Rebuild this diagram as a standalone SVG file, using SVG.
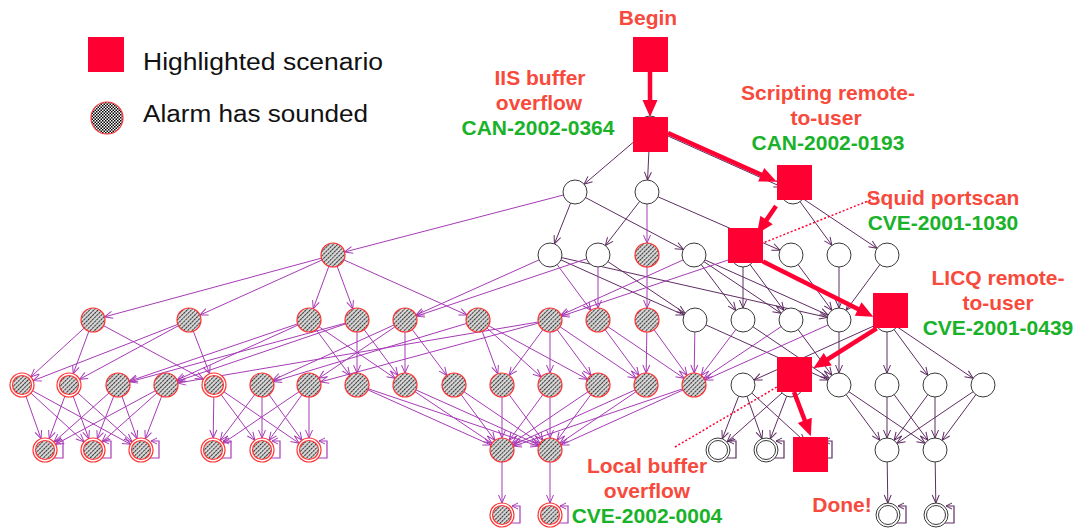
<svg xmlns="http://www.w3.org/2000/svg" width="1076" height="531" viewBox="0 0 1076 531">
<style>
.w{fill:#fff;stroke:#3a3a3a;stroke-width:1}
.a{fill:url(#hatch);stroke:#ff3333;stroke-width:1.2}
.ao{fill:#fff;stroke:#ff3333;stroke-width:1.2}
.sq{fill:#ff0033}
.e line{stroke:#a63bb6;stroke-width:1;marker-end:url(#ap)}
.d line{stroke:#5e2d62;stroke-width:1;marker-end:url(#ad)}
.lpa{fill:none;stroke:#a63bb6;stroke-width:1.2;marker-end:url(#lpa)}
.lpd{fill:none;stroke:#5e2d62;stroke-width:1.2;marker-end:url(#lpd)}
.hr{stroke:#ff0033;stroke-width:4.5;marker-end:url(#ar)}
.dot{stroke:#ff0033;stroke-width:1.5;stroke-dasharray:2 2;fill:none}
.lbl{font-family:"Liberation Sans",Arial,sans-serif;font-weight:bold;font-size:21px;text-anchor:middle}
.r{fill:#f84a3c}
.g{fill:#19b229}
.leg{font-family:"Liberation Sans",Arial,sans-serif;font-size:23px;fill:#111}
</style>
<defs>
<pattern id="hatch" width="3" height="3" patternUnits="userSpaceOnUse" patternTransform="rotate(45)">
<rect width="3" height="3" fill="#dcdcdc"/><rect width="1.1" height="2.4" fill="#3a3a3a"/>
</pattern>
<pattern id="chk" width="3" height="3" patternUnits="userSpaceOnUse">
<rect width="3" height="3" fill="#fff"/><rect width="1.5" height="1.5" fill="#000"/><rect x="1.5" y="1.5" width="1.5" height="1.5" fill="#000"/>
</pattern>
<marker id="ap" markerUnits="userSpaceOnUse" orient="auto" viewBox="-25 -10 30 20" markerWidth="30" markerHeight="20" refX="0" refY="0" overflow="visible">
<path d="M-20,-3.5 L-12,0 L-20,3.5" fill="none" stroke="#a63bb6" stroke-width="1"/>
</marker>
<marker id="ad" markerUnits="userSpaceOnUse" orient="auto" viewBox="-25 -10 30 20" markerWidth="30" markerHeight="20" refX="0" refY="0" overflow="visible">
<path d="M-20,-3.5 L-12,0 L-20,3.5" fill="none" stroke="#5e2d62" stroke-width="1"/>
</marker>
<marker id="lpa" markerUnits="userSpaceOnUse" orient="auto" viewBox="-10 -5 12 10" markerWidth="12" markerHeight="10" refX="0" refY="0" overflow="visible">
<path d="M-6,-3 L0,0 L-6,3" fill="none" stroke="#a63bb6" stroke-width="1"/>
</marker>
<marker id="lpd" markerUnits="userSpaceOnUse" orient="auto" viewBox="-10 -5 12 10" markerWidth="12" markerHeight="10" refX="0" refY="0" overflow="visible">
<path d="M-6,-3 L0,0 L-6,3" fill="none" stroke="#5e2d62" stroke-width="1"/>
</marker>
<marker id="ar" markerUnits="userSpaceOnUse" orient="auto" viewBox="-10 -10 22 20" markerWidth="22" markerHeight="20" refX="0" refY="0" overflow="visible">
<path d="M-7,-7.5 L10,0 L-7,7.5 Z" fill="#ff0033"/>
</marker>
</defs>
<rect width="1076" height="531" fill="#fff"/>

<g id="legend">
<rect class="sq" x="88" y="37" width="36" height="35"/>
<text class="leg" x="143" y="70" textLength="240" lengthAdjust="spacingAndGlyphs">Highlighted scenario</text>
<circle cx="107" cy="118" r="16" fill="url(#chk)" stroke="#ff3333" stroke-width="1.2"/>
<text class="leg" x="143" y="122" textLength="225" lengthAdjust="spacingAndGlyphs">Alarm has sounded</text>
</g>

<g id="connectors">
<g class="d">
<line x1="650" y1="128" x2="575" y2="192"/>
<line x1="650" y1="128" x2="647" y2="192"/>
<line x1="650" y1="128" x2="793" y2="192"/>
<line x1="575" y1="192" x2="550" y2="255"/>
<line x1="575" y1="192" x2="694" y2="255"/>
<line x1="647" y1="192" x2="598" y2="255"/>
<line x1="647" y1="192" x2="791" y2="255"/>
<line x1="793" y1="192" x2="839" y2="255"/>
<line x1="793" y1="192" x2="887" y2="255"/>
<line x1="743" y1="255" x2="743" y2="320"/>
<line x1="743" y1="255" x2="791" y2="320"/>
<line x1="550" y1="255" x2="695" y2="320"/>
<line x1="598" y1="255" x2="695" y2="320"/>
<line x1="694" y1="255" x2="743" y2="320"/>
<line x1="694" y1="255" x2="791" y2="320"/>
<line x1="694" y1="255" x2="839" y2="320"/>
<line x1="550" y1="255" x2="839" y2="320"/>
<line x1="791" y1="255" x2="839" y2="320"/>
<line x1="839" y1="255" x2="839" y2="320"/>
<line x1="887" y1="255" x2="839" y2="320"/>
<line x1="695" y1="320" x2="839" y2="385"/>
<line x1="743" y1="320" x2="839" y2="385"/>
<line x1="791" y1="320" x2="839" y2="385"/>
<line x1="839" y1="320" x2="839" y2="385"/>
<line x1="887" y1="320" x2="743" y2="385"/>
<line x1="887" y1="320" x2="887" y2="385"/>
<line x1="887" y1="320" x2="935" y2="385"/>
<line x1="887" y1="320" x2="983" y2="385"/>
<line x1="743" y1="385" x2="718" y2="450"/>
<line x1="743" y1="385" x2="766" y2="450"/>
<line x1="743" y1="385" x2="814" y2="450"/>
<line x1="791" y1="385" x2="718" y2="450"/>
<line x1="791" y1="385" x2="766" y2="450"/>
<line x1="839" y1="385" x2="887" y2="450"/>
<line x1="839" y1="385" x2="935" y2="450"/>
<line x1="887" y1="385" x2="887" y2="450"/>
<line x1="887" y1="385" x2="935" y2="450"/>
<line x1="935" y1="385" x2="887" y2="450"/>
<line x1="935" y1="385" x2="935" y2="450"/>
<line x1="983" y1="385" x2="887" y2="450"/>
<line x1="983" y1="385" x2="935" y2="450"/>
<line x1="887" y1="450" x2="888" y2="515"/>
<line x1="935" y1="450" x2="936" y2="515"/>
</g>
<g class="e">
<line x1="575" y1="192" x2="333" y2="255"/>
<line x1="647" y1="192" x2="647" y2="255"/>
<line x1="333" y1="255" x2="93" y2="320"/>
<line x1="333" y1="255" x2="189" y2="320"/>
<line x1="333" y1="255" x2="309" y2="320"/>
<line x1="333" y1="255" x2="357" y2="320"/>
<line x1="333" y1="255" x2="478" y2="320"/>
<line x1="647" y1="255" x2="647" y2="320"/>
<line x1="550" y1="255" x2="405" y2="320"/>
<line x1="598" y1="255" x2="405" y2="320"/>
<line x1="550" y1="255" x2="598" y2="320"/>
<line x1="598" y1="255" x2="598" y2="320"/>
<line x1="694" y1="255" x2="550" y2="320"/>
<line x1="743" y1="255" x2="550" y2="320"/>
<line x1="93" y1="320" x2="22" y2="385"/>
<line x1="93" y1="320" x2="69" y2="385"/>
<line x1="93" y1="320" x2="214" y2="385"/>
<line x1="189" y1="320" x2="22" y2="385"/>
<line x1="189" y1="320" x2="69" y2="385"/>
<line x1="189" y1="320" x2="214" y2="385"/>
<line x1="309" y1="320" x2="118" y2="385"/>
<line x1="309" y1="320" x2="166" y2="385"/>
<line x1="309" y1="320" x2="357" y2="385"/>
<line x1="309" y1="320" x2="405" y2="385"/>
<line x1="357" y1="320" x2="118" y2="385"/>
<line x1="357" y1="320" x2="166" y2="385"/>
<line x1="357" y1="320" x2="357" y2="385"/>
<line x1="357" y1="320" x2="405" y2="385"/>
<line x1="405" y1="320" x2="262" y2="385"/>
<line x1="405" y1="320" x2="405" y2="385"/>
<line x1="405" y1="320" x2="454" y2="385"/>
<line x1="405" y1="320" x2="309" y2="385"/>
<line x1="478" y1="320" x2="262" y2="385"/>
<line x1="478" y1="320" x2="502" y2="385"/>
<line x1="478" y1="320" x2="550" y2="385"/>
<line x1="478" y1="320" x2="598" y2="385"/>
<line x1="550" y1="320" x2="309" y2="385"/>
<line x1="550" y1="320" x2="166" y2="385"/>
<line x1="550" y1="320" x2="502" y2="385"/>
<line x1="550" y1="320" x2="550" y2="385"/>
<line x1="550" y1="320" x2="598" y2="385"/>
<line x1="550" y1="320" x2="646" y2="385"/>
<line x1="598" y1="320" x2="646" y2="385"/>
<line x1="598" y1="320" x2="694" y2="385"/>
<line x1="647" y1="320" x2="646" y2="385"/>
<line x1="647" y1="320" x2="694" y2="385"/>
<line x1="695" y1="320" x2="694" y2="385"/>
<line x1="743" y1="320" x2="694" y2="385"/>
<line x1="791" y1="320" x2="694" y2="385"/>
<line x1="839" y1="320" x2="694" y2="385"/>
<line x1="22" y1="385" x2="45" y2="450"/>
<line x1="22" y1="385" x2="93" y2="450"/>
<line x1="22" y1="385" x2="141" y2="450"/>
<line x1="69" y1="385" x2="45" y2="450"/>
<line x1="69" y1="385" x2="93" y2="450"/>
<line x1="69" y1="385" x2="141" y2="450"/>
<line x1="118" y1="385" x2="45" y2="450"/>
<line x1="118" y1="385" x2="93" y2="450"/>
<line x1="118" y1="385" x2="141" y2="450"/>
<line x1="166" y1="385" x2="45" y2="450"/>
<line x1="166" y1="385" x2="93" y2="450"/>
<line x1="166" y1="385" x2="141" y2="450"/>
<line x1="214" y1="385" x2="213" y2="450"/>
<line x1="214" y1="385" x2="262" y2="450"/>
<line x1="214" y1="385" x2="309" y2="450"/>
<line x1="262" y1="385" x2="213" y2="450"/>
<line x1="262" y1="385" x2="262" y2="450"/>
<line x1="262" y1="385" x2="309" y2="450"/>
<line x1="309" y1="385" x2="213" y2="450"/>
<line x1="309" y1="385" x2="262" y2="450"/>
<line x1="309" y1="385" x2="309" y2="450"/>
<line x1="357" y1="385" x2="502" y2="450"/>
<line x1="357" y1="385" x2="550" y2="450"/>
<line x1="405" y1="385" x2="502" y2="450"/>
<line x1="405" y1="385" x2="550" y2="450"/>
<line x1="454" y1="385" x2="502" y2="450"/>
<line x1="454" y1="385" x2="550" y2="450"/>
<line x1="502" y1="385" x2="502" y2="450"/>
<line x1="502" y1="385" x2="550" y2="450"/>
<line x1="550" y1="385" x2="502" y2="450"/>
<line x1="550" y1="385" x2="550" y2="450"/>
<line x1="598" y1="385" x2="502" y2="450"/>
<line x1="598" y1="385" x2="550" y2="450"/>
<line x1="646" y1="385" x2="502" y2="450"/>
<line x1="646" y1="385" x2="550" y2="450"/>
<line x1="694" y1="385" x2="502" y2="450"/>
<line x1="694" y1="385" x2="550" y2="450"/>
<line x1="502" y1="450" x2="502" y2="515"/>
<line x1="550" y1="450" x2="550" y2="515"/>
</g>
</g>

<g id="nodes">
<g id="n-r2-575"><circle class="w" cx="575" cy="192" r="12"/></g>
<g id="n-r2-647"><circle class="w" cx="647" cy="192" r="12"/></g>
<g id="n-r3-333"><circle class="a" cx="333" cy="255" r="12"/></g>
<g id="n-r3-550"><circle class="w" cx="550" cy="255" r="12"/></g>
<g id="n-r3-598"><circle class="w" cx="598" cy="255" r="12"/></g>
<g id="n-r3-647"><circle class="a" cx="647" cy="255" r="12"/></g>
<g id="n-r3-694"><circle class="w" cx="694" cy="255" r="12"/></g>
<g id="n-r3-791"><circle class="w" cx="791" cy="255" r="12"/></g>
<g id="n-r3-839"><circle class="w" cx="839" cy="255" r="12"/></g>
<g id="n-r3-887"><circle class="w" cx="887" cy="255" r="12"/></g>

<g id="n-r4-93"><circle class="a" cx="93" cy="320" r="12"/></g>
<g id="n-r4-189"><circle class="a" cx="189" cy="320" r="12"/></g>
<g id="n-r4-309"><circle class="a" cx="309" cy="320" r="12"/></g>
<g id="n-r4-357"><circle class="a" cx="357" cy="320" r="12"/></g>
<g id="n-r4-405"><circle class="a" cx="405" cy="320" r="12"/></g>
<g id="n-r4-478"><circle class="a" cx="478" cy="320" r="12"/></g>
<g id="n-r4-550"><circle class="a" cx="550" cy="320" r="12"/></g>
<g id="n-r4-598"><circle class="a" cx="598" cy="320" r="12"/></g>
<g id="n-r4-647"><circle class="a" cx="647" cy="320" r="12"/></g>
<g id="n-r4-695"><circle class="w" cx="695" cy="320" r="12"/></g>
<g id="n-r4-743"><circle class="w" cx="743" cy="320" r="12"/></g>
<g id="n-r4-791"><circle class="w" cx="791" cy="320" r="12"/></g>
<g id="n-r4-839"><circle class="w" cx="839" cy="320" r="12"/></g>

<g id="n-r5-22"><circle class="ao" cx="22" cy="385" r="12"/><circle class="a" cx="22" cy="385" r="9.5"/></g>
<g id="n-r5-69"><circle class="ao" cx="69" cy="385" r="12"/><circle class="a" cx="69" cy="385" r="9.5"/></g>
<g id="n-r5-118"><circle class="a" cx="118" cy="385" r="12"/></g>
<g id="n-r5-166"><circle class="a" cx="166" cy="385" r="12"/></g>
<g id="n-r5-214"><circle class="ao" cx="214" cy="385" r="12"/><circle class="a" cx="214" cy="385" r="9.5"/></g>
<g id="n-r5-262"><circle class="a" cx="262" cy="385" r="12"/></g>
<g id="n-r5-309"><circle class="a" cx="309" cy="385" r="12"/></g>
<g id="n-r5-357"><circle class="a" cx="357" cy="385" r="12"/></g>
<g id="n-r5-405"><circle class="a" cx="405" cy="385" r="12"/></g>
<g id="n-r5-454"><circle class="a" cx="454" cy="385" r="12"/></g>
<g id="n-r5-502"><circle class="a" cx="502" cy="385" r="12"/></g>
<g id="n-r5-550"><circle class="a" cx="550" cy="385" r="12"/></g>
<g id="n-r5-598"><circle class="a" cx="598" cy="385" r="12"/></g>
<g id="n-r5-646"><circle class="a" cx="646" cy="385" r="12"/></g>
<g id="n-r5-694"><circle class="a" cx="694" cy="385" r="12"/></g>
<g id="n-r5-743"><circle class="w" cx="743" cy="385" r="12"/></g>
<g id="n-r5-839"><circle class="w" cx="839" cy="385" r="12"/></g>
<g id="n-r5-887"><circle class="w" cx="887" cy="385" r="12"/></g>
<g id="n-r5-935"><circle class="w" cx="935" cy="385" r="12"/></g>
<g id="n-r5-983"><circle class="w" cx="983" cy="385" r="12"/></g>

<g id="n-r6-45"><path class="lpa" d="M53,458 H63 V441 H55"/><circle class="ao" cx="45" cy="450" r="12"/><circle class="a" cx="45" cy="450" r="9.5"/></g>
<g id="n-r6-93"><path class="lpa" d="M101,458 H111 V441 H103"/><circle class="ao" cx="93" cy="450" r="12"/><circle class="a" cx="93" cy="450" r="9.5"/></g>
<g id="n-r6-141"><path class="lpa" d="M149,458 H159 V441 H151"/><circle class="ao" cx="141" cy="450" r="12"/><circle class="a" cx="141" cy="450" r="9.5"/></g>
<g id="n-r6-213"><path class="lpa" d="M221,458 H231 V441 H223"/><circle class="ao" cx="213" cy="450" r="12"/><circle class="a" cx="213" cy="450" r="9.5"/></g>
<g id="n-r6-262"><path class="lpa" d="M270,458 H280 V441 H272"/><circle class="ao" cx="262" cy="450" r="12"/><circle class="a" cx="262" cy="450" r="9.5"/></g>
<g id="n-r6-309"><path class="lpa" d="M317,458 H327 V441 H319"/><circle class="ao" cx="309" cy="450" r="12"/><circle class="a" cx="309" cy="450" r="9.5"/></g>
<g id="n-r6-502"><circle class="a" cx="502" cy="450" r="12"/></g>
<g id="n-r6-550"><circle class="a" cx="550" cy="450" r="12"/></g>
<g id="n-r6-718"><path class="lpd" d="M726,458 H736 V441 H728"/><circle class="w" cx="718" cy="450" r="12"/><circle class="w" cx="718" cy="450" r="9.5"/></g>
<g id="n-r6-766"><path class="lpd" d="M774,458 H784 V441 H776"/><circle class="w" cx="766" cy="450" r="12"/><circle class="w" cx="766" cy="450" r="9.5"/></g>
<g id="n-r6-887"><circle class="w" cx="887" cy="450" r="12"/></g>
<g id="n-r6-935"><circle class="w" cx="935" cy="450" r="12"/></g>

<g id="n-r7-502"><path class="lpa" d="M510,523 H520 V506 H512"/><circle class="ao" cx="502" cy="515" r="12"/><circle class="a" cx="502" cy="515" r="9.5"/></g>
<g id="n-r7-550"><path class="lpa" d="M558,523 H568 V506 H560"/><circle class="ao" cx="550" cy="515" r="12"/><circle class="a" cx="550" cy="515" r="9.5"/></g>
<g id="n-r7-888"><path class="lpd" d="M896,523 H906 V506 H898"/><circle class="w" cx="888" cy="515" r="12"/><circle class="w" cx="888" cy="515" r="9.5"/></g>
<g id="n-r7-936"><path class="lpd" d="M944,523 H954 V506 H946"/><circle class="w" cx="936" cy="515" r="12"/><circle class="w" cx="936" cy="515" r="9.5"/></g>

<g id="n-begin"><rect class="sq" x="633" y="37" width="35" height="35"/></g>
<g id="n-iis"><circle class="w" cx="650" cy="128" r="12"/><rect class="sq" x="633" y="117" width="35" height="35"/></g>
<g id="n-scripting"><circle class="w" cx="793" cy="192" r="12"/><rect class="sq" x="777" y="165" width="35" height="35"/></g>
<g id="n-squid"><circle class="w" cx="743" cy="255" r="12"/><rect class="sq" x="728" y="228" width="35" height="35"/></g>
<g id="n-licq"><circle class="w" cx="887" cy="320" r="12"/><rect class="sq" x="873" y="293" width="35" height="35"/></g>
<g id="n-local"><circle class="w" cx="791" cy="385" r="12"/><rect class="sq" x="777" y="357" width="35" height="35"/></g>
<g id="n-done"><path class="lpd" d="M822,458 H832 V441 H824"/><circle class="w" cx="814" cy="450" r="12"/><rect class="sq" x="793" y="437" width="35" height="35"/></g>
</g>

<g id="scenario-arrows">
<line class="hr" x1="650" y1="72" x2="650" y2="107"/>
<line class="hr" x1="668" y1="133" x2="767.6" y2="177.6"/>
<line class="hr" x1="776" y1="206" x2="762.6" y2="225.7"/>
<line class="hr" x1="763" y1="261.5" x2="864.4" y2="312.2"/>
<line class="hr" x1="876.7" y1="328.3" x2="821.8" y2="363"/>
<line class="hr" x1="794" y1="392" x2="807.3" y2="427"/>
<line class="dot" x1="878" y1="197" x2="763" y2="243"/>
<line class="dot" x1="675" y1="447" x2="777" y2="387"/>
</g>

<g id="labels">
<text class="lbl r" x="648" y="25">Begin</text>
<text class="lbl r" x="540" y="85">IIS buffer</text>
<text class="lbl r" x="539" y="110">overflow</text>
<text class="lbl g" x="538" y="135">CAN-2002-0364</text>
<text class="lbl r" x="828" y="100">Scripting remote-</text>
<text class="lbl r" x="826" y="125">to-user</text>
<text class="lbl g" x="828" y="150">CAN-2002-0193</text>
<text class="lbl r" x="943" y="205">Squid portscan</text>
<text class="lbl g" x="943" y="230">CVE-2001-1030</text>
<text class="lbl r" x="998" y="285">LICQ remote-</text>
<text class="lbl r" x="998" y="310">to-user</text>
<text class="lbl g" x="998" y="335">CVE-2001-0439</text>
<text class="lbl r" x="647" y="473">Local buffer</text>
<text class="lbl r" x="647" y="498">overflow</text>
<text class="lbl g" x="647" y="523">CVE-2002-0004</text>
<text class="lbl r" x="842" y="512">Done!</text>
</g>
</svg>
